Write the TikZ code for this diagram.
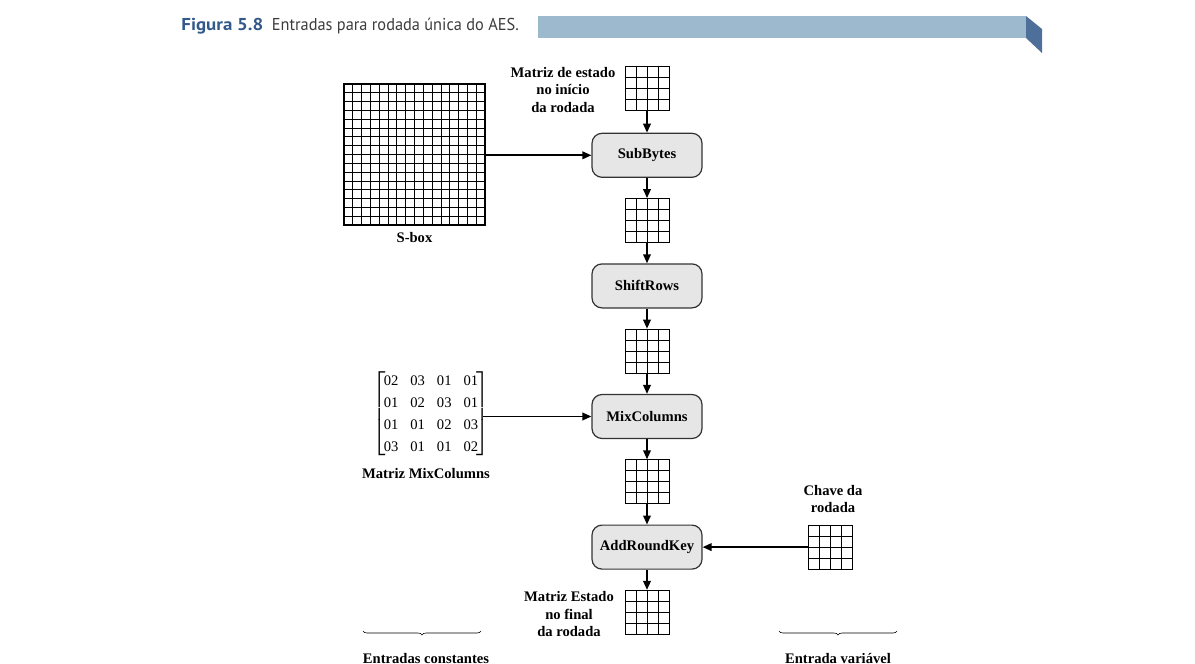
\documentclass[tikz,border=0pt]{standalone}
\usepackage{fontspec}
\setmainfont{Liberation Serif}
\newfontfamily\headfont[FakeStretch=0.95]{PT Sans}
\newfontfamily\headbold[FakeStretch=1.1]{PT Sans}
\usetikzlibrary{positioning,arrows.meta,calc,decorations.pathreplacing}
\definecolor{figblue}{HTML}{33598A}
\definecolor{headgray}{HTML}{3C3C3C}
\definecolor{barlight}{HTML}{9DB9CD}
\definecolor{bardark}{HTML}{4F6F9B}
\definecolor{boxgray}{HTML}{E6E6E6}
\tikzset{
  cells/.style={path picture={
    \pgfmathtruncatemacro\lastcell{#1-1}
    \foreach \k in {1,...,\lastcell}{
      \draw[line width=0.4pt] ($(path picture bounding box.north west)!\k/#1!(path picture bounding box.north east)$) -- ($(path picture bounding box.south west)!\k/#1!(path picture bounding box.south east)$);
      \draw[line width=0.4pt] ($(path picture bounding box.north west)!\k/#1!(path picture bounding box.south west)$) -- ($(path picture bounding box.north east)!\k/#1!(path picture bounding box.south east)$);
    }}},
  statebox/.style={draw, line width=0.5pt, minimum size=22pt, inner sep=0pt, cells=4},
  sboxgrid/.style={draw, line width=0.9pt, minimum size=70.5pt, inner sep=0pt, cells=16},
  stepbox/.style={draw=black!80, fill=boxgray, line width=0.6pt, rounded corners=5pt,
                  minimum width=55pt, minimum height=22pt, inner sep=0pt,
                  font=\fontsize{7.3}{8.75}\selectfont\bfseries},
  lbl/.style={font=\fontsize{7.3}{8.75}\selectfont\bfseries, align=center, inner sep=0pt},
  fwd/.style={-{Triangle[length=4.5pt,width=3.8pt]}, line width=0.85pt},
  underbrace/.style={decorate, decoration={brace, mirror, amplitude=2pt}, line width=0.3pt},
}
\begin{document}
\begin{tikzpicture}[x=0.5pt, y=-0.5pt, node distance=10.1pt]
  \useasboundingbox (0,0) rectangle (1195,664);
  % caption bar
  \node[anchor=base west, inner sep=0pt, text=headgray,
        font=\headfont\fontsize{8.6}{10}\selectfont] (title) at (181,31)
        {\textcolor{figblue}{\headbold\bfseries Figura 5.8}\enspace Entradas para rodada única do AES.};
  \fill[barlight] (538,16) rectangle (1026,38);
  \fill[bardark] (1026,16) -- (1042,29) -- (1042,53) -- (1026,38) -- cycle;

  % round column
  \node[statebox] (state0) at (647,88) {};
  \node[stepbox, below=11.1pt of state0] (subbytes) {SubBytes};
  \node[statebox, below=of subbytes] (state1) {};
  \node[stepbox, below=of state1] (shiftrows) {ShiftRows};
  \node[statebox, below=of shiftrows] (state2) {};
  \node[stepbox, below=of state2] (mixcols) {MixColumns};
  \node[statebox, below=of mixcols] (state3) {};
  \node[stepbox, below=of state3] (addkey) {AddRoundKey};
  \node[statebox, below=of addkey] (state4) {};
  \node[lbl] (startlbl) at (563,90) {Matriz de estado\\no início\\da rodada};
  \node[lbl] (endlbl) at (569,614) {Matriz Estado\\no final\\da rodada};

  \foreach \a/\b in {state0/subbytes, subbytes/state1, state1/shiftrows, shiftrows/state2,
                     state2/mixcols, mixcols/state3, state3/addkey, addkey/state4}
    \draw[fwd] (\a) -- (\b);

  % inputs
  \node[sboxgrid] (sbox) at (414.5,154.5) {};
  \node[lbl, below=3pt of sbox] (sboxlbl) {S-box};
  \node[inner sep=0pt, font=\fontsize{7.3}{8.5}\selectfont] (mixmat) at (431,414)
    {\setlength\tabcolsep{3pt}\renewcommand\arraystretch{1.3}%
     $\left[\begin{tabular}{@{\hspace{-1pt}}llll@{\hspace{-1pt}}}02&03&01&01\\01&02&03&01\\01&01&02&03\\03&01&01&02\end{tabular}\right]$};
  \node[lbl] (mixlbl) at (426,474) {Matriz MixColumns};
  \node[statebox] (roundkey) at (830.5,547) {};
  \node[lbl] (keylbl) at (833,499) {Chave da\\rodada};

  \draw[fwd] ([xshift=-3.5pt]mixmat.east |- mixcols) -- (mixcols.west);
  \draw[fwd] (sbox.east |- subbytes) -- (subbytes.west);
  \draw[fwd] (roundkey.west |- addkey) -- (addkey.east);

  % braces
  \coordinate (constL) at (363,631);
  \coordinate (constR) at (481,631);
  \coordinate (varL) at (779,631);
  \coordinate (varR) at (897,631);
  \draw[underbrace] (constL) -- (constR);
  \draw[underbrace] (varL) -- (varR);
  \node[lbl] (constlbl) at (426,658) {Entradas constantes};
  \node[lbl] (varlbl) at (838,658) {Entrada variável};
\end{tikzpicture}
\end{document}
